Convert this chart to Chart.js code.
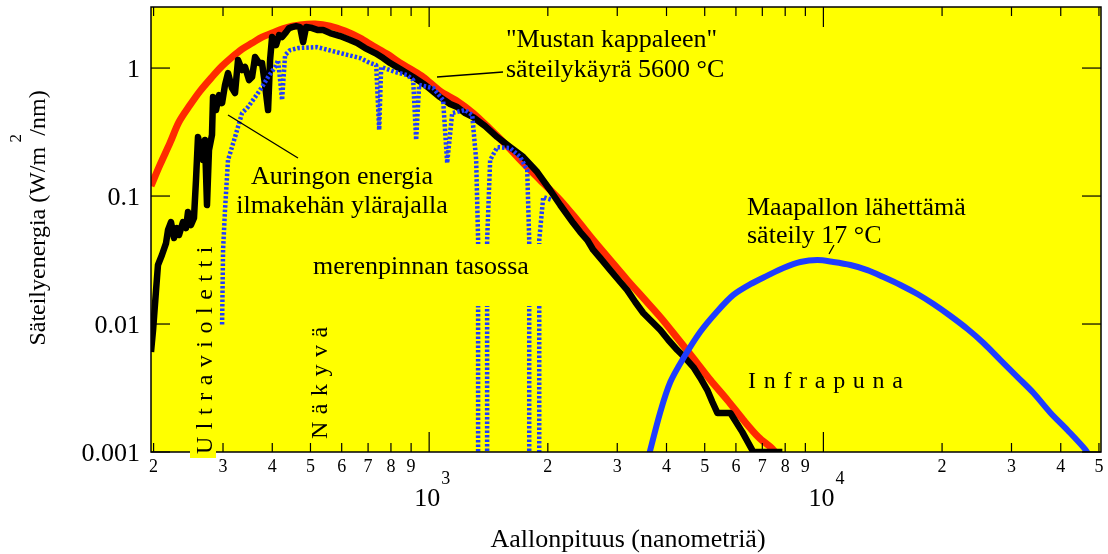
<!DOCTYPE html>
<html>
<head>
<meta charset="utf-8">
<script src="https://cdn.jsdelivr.net/npm/chart.js@4.4.1/dist/chart.umd.min.js"></script>
<style>
body { margin: 0; background: #fff; }
canvas { display: block; }
</style>
</head>
<body>
<canvas id="spectrumChart" width="1108" height="554"></canvas>
<script>
// "Mustan kappaleen" 5600 °C curve
const blackbodyWl = [197, 207.6, 220.1, 232, 247.4, 262.3, 281.3, 298.4, 316.2, 335.3, 355.5, 376.8, 399.6, 431.1, 470.6, 513.7, 560.8, 612.1, 668.3, 721.1, 782.6, 844.2, 905.5, 965.6, 1066, 1178, 1293, 1428, 1578, 1732, 1913, 2150, 2374, 2608, 2880, 3180, 3492, 3857, 4260, 4678, 5168, 5706, 6266, 6839, 7466, 7689];
const blackbodyVal = [0.120, 0.175, 0.260, 0.379, 0.514, 0.661, 0.851, 1.037, 1.219, 1.407, 1.568, 1.747, 1.877, 2.054, 2.167, 2.207, 2.128, 1.946, 1.715, 1.486, 1.286, 1.094, 0.965, 0.851, 0.661, 0.552, 0.445, 0.334, 0.246, 0.181, 0.133, 0.0931, 0.0649, 0.0453, 0.0316, 0.0221, 0.0160, 0.01135, 0.00778, 0.00542, 0.00365, 0.00255, 0.00178, 0.00131, 0.00104, 0.0009];

// Auringon energia ilmakehän ylärajalla
const solarWl = [197, 199.4, 202.9, 205.2, 210, 215.1, 217.6, 221.4, 225.3, 229.3,
  232, 237.5, 241.7, 244.5, 248.8, 253.2, 256.2, 259.2, 263.8, 266.9,
  270, 273.2, 276.4, 281.3, 283, 288, 293.1, 298.4, 303.5, 308.9,
  316.2, 321.8, 327.5, 335.3, 341.2, 349.3, 355.5, 361.8, 370.4, 376.8,
  383.5, 390.3, 394.9, 399.6, 409, 416.3, 423.6, 433.6, 441.3, 449.1,
  459.7, 470.6, 478.9, 487.3, 504.8, 522.6, 538.3, 560.8, 594.5, 630.2,
  656.7, 688, 729.5, 764.5, 796.2, 844.2, 910.8, 977, 1066, 1130,
  1178, 1234, 1293, 1387, 1488, 1605, 1732, 1880, 2028, 2150,
  2320, 2417, 2518, 2608, 2716, 2880, 3053, 3180, 3332, 3492,
  3681, 3857, 4043, 4260, 4465, 4678, 4873, 5076, 5229, 5383,
  5808, 6230, 6642, 7868];
const solarVal = [0.00604, 0.00898, 0.0184, 0.0289, 0.0346, 0.0429, 0.0543, 0.0626, 0.0470, 0.0562,
  0.0496, 0.0626, 0.0562, 0.0750, 0.0593, 0.0674, 0.133, 0.289, 0.229, 0.191,
  0.274, 0.0851, 0.229, 0.300, 0.593, 0.470, 0.615, 0.533, 0.737, 0.914,
  0.698, 0.638, 1.155, 0.965, 1.018, 0.806, 0.851, 1.219, 1.094, 1.094,
  0.737, 0.470, 1.155, 1.747, 1.513, 1.811, 1.747, 1.910, 2.054, 2.091,
  2.129, 2.091, 1.596, 2.091, 2.054, 1.981, 1.981, 1.877, 1.778, 1.655,
  1.568, 1.433, 1.310, 1.197, 1.094, 0.982, 0.851, 0.737, 0.593, 0.524,
  0.496, 0.445, 0.414, 0.352, 0.289, 0.241, 0.202, 0.154, 0.111, 0.0851,
  0.0615, 0.0523, 0.0453, 0.0379, 0.0328, 0.0264, 0.0213, 0.0184, 0.01485, 0.0122,
  0.01037, 0.00898, 0.0075, 0.00626, 0.00542, 0.00461, 0.00379, 0.00305, 0.00246, 0.00202,
  0.00202, 0.00143, 0.0010, 0.0010];

// merenpinnan tasossa
const seaWl = [298.4, 300.1, 303.5, 308.9, 321.8, 335.3, 347.2, 361.8, 376.8, 390.3,
  406.6, 413.9, 423.6, 431.1, 443.9, 465.1, 519.6, 594.5, 668.3, 708.6,
  733.9, 746.8, 755.6, 819.8, 879.5, 910.8, 926.8, 943.2, 1024, 1085,
  1111, 1144, 1234, 1286, 1316, 1331, 1331, 1403, 1403, 1428,
  1488, 1605, 1702, 1773, 1794, 1794, 1902, 1902, 1947, 2052];
const seaVal = [0.0099, 0.0379, 0.0777, 0.191, 0.289, 0.445, 0.496, 0.593, 0.711, 0.851,
  1.018, 1.155, 0.562, 1.263, 1.382, 1.433, 1.459, 1.310, 1.197, 1.094,
  1.055, 0.328, 1.018, 0.931, 0.882, 0.806, 0.274, 0.737, 0.698, 0.562,
  0.181, 0.445, 0.470, 0.429, 0.191, 0.0453, 0.0005, 0.0005, 0.0453, 0.191,
  0.241, 0.237, 0.202, 0.160, 0.0453, 0.0005, 0.0005, 0.0453, 0.0982, 0.0931];

// Maapallon lähettämä säteily 17 °C
const earthWl = [3595, 3857, 4090, 4413, 4873, 5383, 5911, 6528, 7210, 7914,
  8741, 9656, 10600, 11710, 12930, 14200, 15680, 17320, 19020, 21010,
  23200, 25470, 28130, 31080, 34120, 37690, 41630, 46240, 47500];
const earthVal = [0.0009, 0.00205, 0.00352, 0.00540, 0.00870, 0.0126, 0.01690, 0.0205, 0.0239, 0.0274,
  0.0305, 0.0316, 0.0305, 0.0289, 0.0264, 0.0233, 0.0202, 0.01716, 0.01433, 0.01155,
  0.00914, 0.00711, 0.00523, 0.00385, 0.00289, 0.00202, 0.00148, 0.00104, 0.0009];

const xMinorTicks = [200, 300, 400, 500, 600, 700, 800, 900, 2000, 3000, 4000, 5000, 6000, 7000, 8000, 9000, 20000, 30000, 40000, 50000];
const xMinorLabels = ['2', '3', '4', '5', '6', '7', '8', '9', '2', '3', '4', '5', '6', '7', '8', '9', '2', '3', '4', '5'];
const xMajorTicks = [1000, 10000];
const xMajorExp = ['3', '4'];
const yTicks = [0.001, 0.01, 0.1, 1];
const yLabels = ['0.001', '0.01', '0.1', '1'];

const SERIF = '"Liberation Serif", "Times New Roman", serif';
const toPoints = (xs, ys) => xs.map((x, i) => ({ x: x, y: ys[i] }));

function line(ctx, x1, y1, x2, y2) {
    ctx.beginPath();
    ctx.moveTo(x1, y1);
    ctx.lineTo(x2, y2);
    ctx.stroke();
}

function spacedText(ctx, text, x, y, spacing) {
    for (const ch of text) {
        ctx.fillText(ch, x, y);
        x += ctx.measureText(ch).width + spacing;
    }
}

const decorations = {
    id: 'decorations',
    beforeDatasetsDraw(chart) {
        const { ctx, chartArea: a } = chart;
        ctx.save();
        ctx.fillStyle = '#ffff00';
        ctx.fillRect(a.left, a.top, a.right - a.left, a.bottom - a.top);
        ctx.restore();
    },
    afterDatasetsDraw(chart) {
        const { ctx, chartArea: a } = chart;
        const xs = chart.scales.x;
        const ys = chart.scales.y;
        ctx.save();

        // frame
        ctx.strokeStyle = '#000';
        ctx.lineWidth = 1.5;
        ctx.strokeRect(a.left, a.top, a.right - a.left, a.bottom - a.top);

        // ticks
        ctx.lineWidth = 1.2;
        xMinorTicks.forEach(v => {
            const px = xs.getPixelForValue(v);
            line(ctx, px, a.bottom, px, a.bottom - 9);
            line(ctx, px, a.top, px, a.top + 9);
        });
        xMajorTicks.forEach(v => {
            const px = xs.getPixelForValue(v);
            line(ctx, px, a.bottom, px, a.bottom - 20);
            line(ctx, px, a.top, px, a.top + 20);
        });
        yTicks.forEach(v => {
            const py = ys.getPixelForValue(v);
            line(ctx, a.left, py, a.left + 19, py);
            line(ctx, a.right, py, a.right - 19, py);
        });

        // tick labels
        ctx.fillStyle = '#000';
        ctx.textBaseline = 'alphabetic';
        ctx.font = '18px ' + SERIF;
        ctx.textAlign = 'center';
        xMinorTicks.forEach((v, i) => {
            ctx.fillText(xMinorLabels[i], xs.getPixelForValue(v), a.bottom + 20);
        });
        xMajorTicks.forEach((v, i) => {
            const px = xs.getPixelForValue(v) - 2;
            ctx.font = '26px ' + SERIF;
            ctx.textAlign = 'center';
            ctx.fillText('10', px, a.bottom + 54);
            ctx.font = '18px ' + SERIF;
            ctx.textAlign = 'left';
            ctx.fillText(xMajorExp[i], px + 14, a.bottom + 32);
        });
        ctx.font = '26px ' + SERIF;
        ctx.textAlign = 'right';
        yTicks.forEach((v, i) => {
            ctx.fillText(yLabels[i], a.left - 11, ys.getPixelForValue(v) + 9);
        });

        // axis titles
        ctx.textAlign = 'center';
        ctx.fillText('Aallonpituus (nanometriä)', (a.left + a.right) / 2 + 2, 547);

        ctx.save();
        ctx.translate(45, 218);
        ctx.rotate(-Math.PI / 2);
        ctx.font = '24px ' + SERIF;
        ctx.textAlign = 'left';
        const part1 = 'Säteilyenergia (W/m', part2 = ' /nm)';
        const w1 = ctx.measureText(part1).width;
        const w2 = ctx.measureText(part2).width;
        ctx.font = '17px ' + SERIF;
        const ws = ctx.measureText('2').width;
        const start = -(w1 + ws * 0.6 + w2) / 2;
        ctx.font = '24px ' + SERIF;
        ctx.fillText(part1, start, 0);
        ctx.fillText(part2, start + w1 + ws * 0.6, 0);
        ctx.font = '17px ' + SERIF;
        ctx.fillText('2', start + w1 + ws * 0.5, -24);
        ctx.restore();

        // annotations
        ctx.font = '26px ' + SERIF;
        ctx.textAlign = 'left';
        ctx.fillText('"Mustan kappaleen"', 506, 47);
        ctx.fillText('säteilykäyrä 5600 °C', 506, 77);
        ctx.textAlign = 'center';
        ctx.fillText('Auringon energia', 342, 184);
        ctx.fillText('ilmakehän ylärajalla', 342, 213);
        ctx.textAlign = 'left';
        ctx.fillText('Maapallon lähettämä', 747, 215);
        ctx.fillText('säteily 17 °C', 747, 243);

        ctx.lineWidth = 1.3;
        line(ctx, 437, 77, 503, 72);
        line(ctx, 228, 115, 298, 158);
        line(ctx, 829, 254, 834, 245);

        // sea level label covers the deep water bands
        ctx.fillStyle = '#ffff00';
        ctx.fillRect(305, 244, 243, 62);
        ctx.fillStyle = '#000';
        ctx.fillText('merenpinnan tasossa', 313, 274);

        ctx.font = '24px ' + SERIF;
        spacedText(ctx, 'Infrapuna', 748, 388, 7.7);

        ctx.fillStyle = '#ffff00';
        ctx.fillRect(190, 245, 26, 213);
        ctx.fillStyle = '#000';
        ctx.save();
        ctx.translate(212, 454);
        ctx.rotate(-Math.PI / 2);
        spacedText(ctx, 'Ultravioletti', 0, 0, 7.5);
        ctx.restore();

        ctx.save();
        ctx.translate(327, 439);
        ctx.rotate(-Math.PI / 2);
        spacedText(ctx, 'Näkyvä', 0, 0, 7.5);
        ctx.restore();

        ctx.restore();
    }
};

const ctx = document.getElementById('spectrumChart').getContext('2d');
const spectrumChart = new Chart(ctx, {
    type: 'line',
    data: {
        datasets: [{
            label: 'Maapallon lähettämä säteily 17 °C',
            data: toPoints(earthWl, earthVal),
            borderColor: '#1f3cff',
            borderWidth: 6,
            tension: 0.3,
            order: 0
        }, {
            label: 'merenpinnan tasossa',
            data: toPoints(seaWl, seaVal),
            borderColor: '#1f3cff',
            borderWidth: 4.5,
            borderDash: [2.5, 2],
            tension: 0,
            order: 1
        }, {
            label: 'Auringon energia ilmakehän ylärajalla',
            data: toPoints(solarWl, solarVal),
            borderColor: '#000000',
            borderWidth: 6.5,
            tension: 0,
            order: 2
        }, {
            label: 'Mustan kappaleen säteilykäyrä 5600 °C',
            data: toPoints(blackbodyWl, blackbodyVal),
            borderColor: '#ff2a00',
            borderWidth: 7,
            tension: 0.3,
            order: 3
        }]
    },
    options: {
        responsive: false,
        animation: false,
        events: [],
        elements: {
            point: { radius: 0 },
            line: { borderJoinStyle: 'round', borderCapStyle: 'butt' }
        },
        layout: {
            padding: { left: 151, right: 7, top: 7, bottom: 102 }
        },
        scales: {
            x: { type: 'logarithmic', min: 197, max: 50600, display: false },
            y: { type: 'logarithmic', min: 0.001, max: 3, display: false }
        },
        plugins: {
            legend: { display: false },
            tooltip: { enabled: false }
        }
    },
    plugins: [decorations]
});
</script>
</body>
</html>
